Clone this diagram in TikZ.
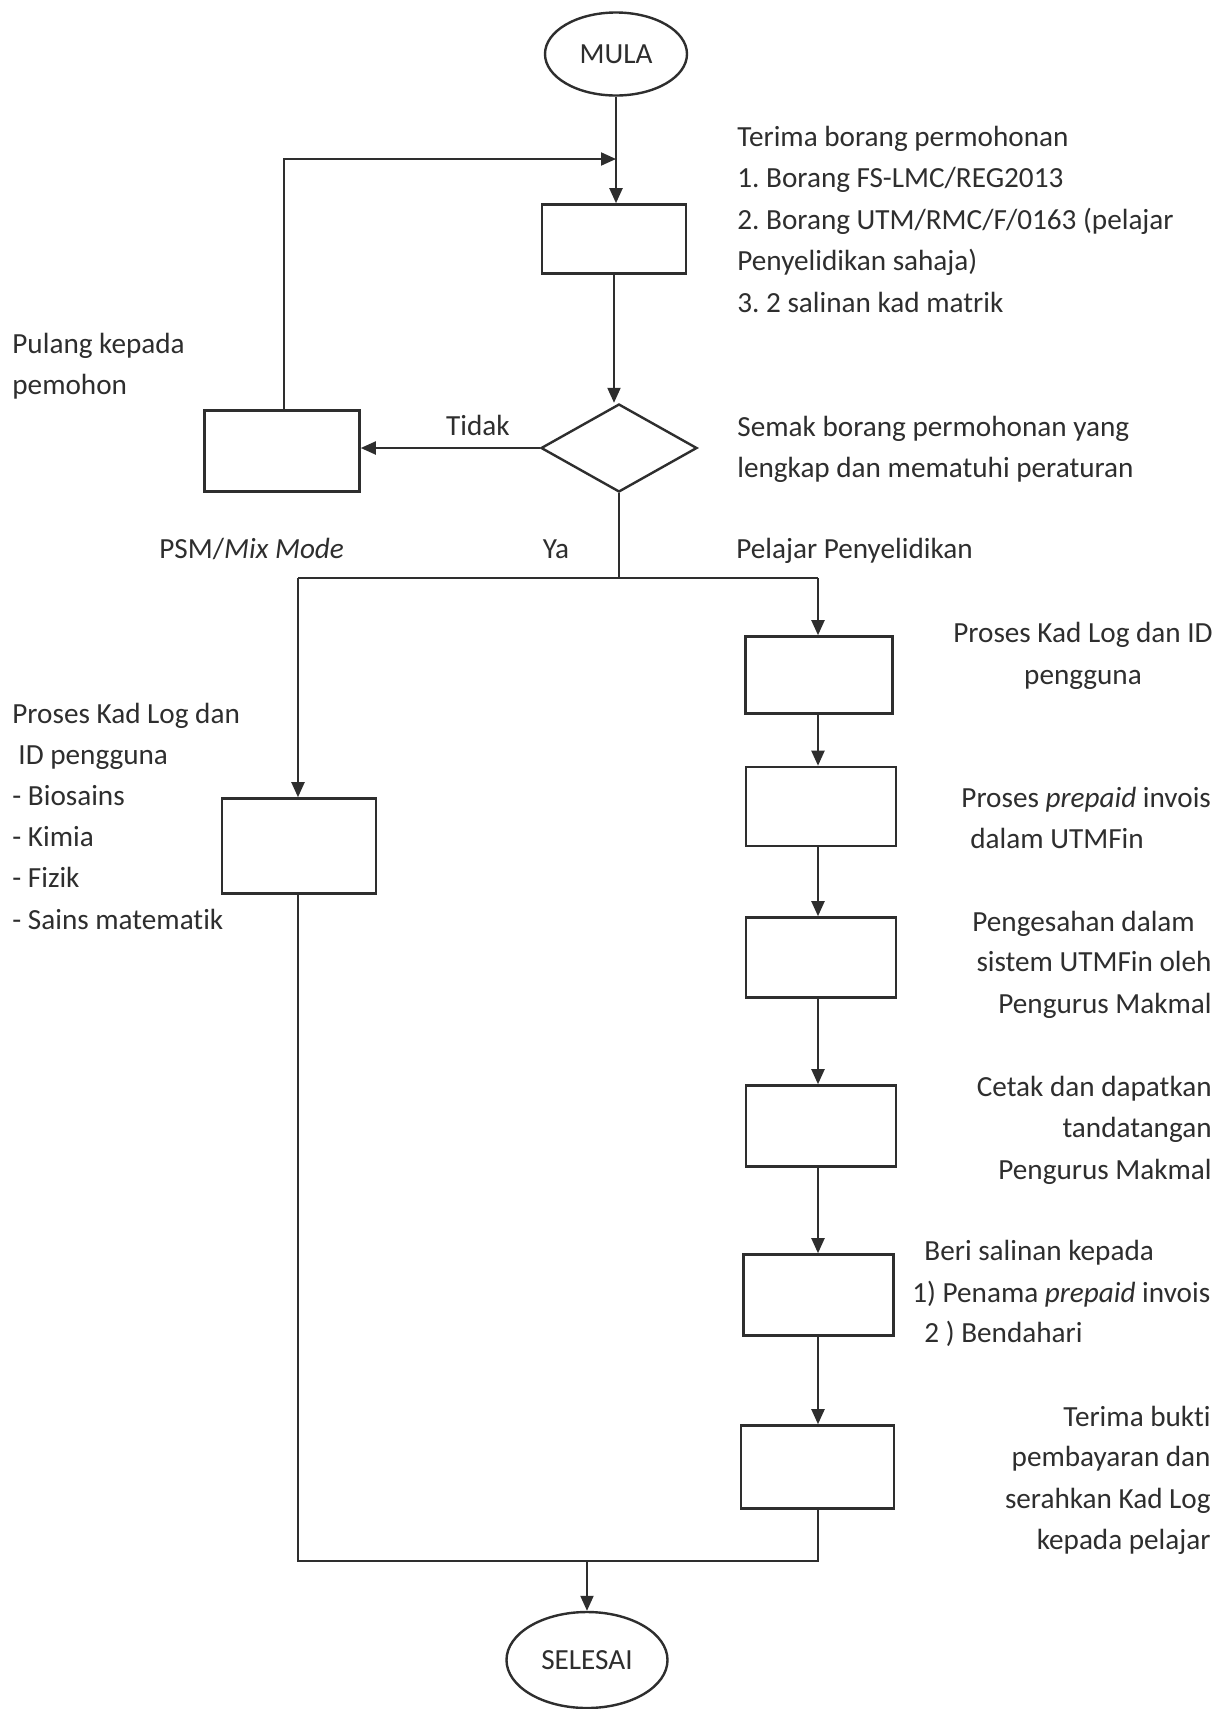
\documentclass[tikz,border=0pt]{standalone}
\usepackage{fontspec}
\setmainfont{Carlito}[Ligatures={NoCommon}]
\usetikzlibrary{arrows.meta,shapes.geometric}
\definecolor{ink}{HTML}{2E2E2E}
\newcommand\dfont{\fontsize{14.6}{18}\selectfont}
\frenchspacing
\begin{document}
\begin{tikzpicture}[x=0.5pt,y=-0.5pt,
  line/.style={draw=ink, line width=1pt},
  arr/.style={line, -{Triangle[length=7.5pt,width=6.5pt]}},
  box/.style={draw=ink, line width=1.3pt, rectangle, inner sep=0pt, minimum width=75pt},
  term/.style={draw=ink, line width=1.2pt, ellipse, inner sep=0pt, font=\dfont, text=ink},
  dec/.style={draw=ink, line width=1.2pt, diamond, inner sep=0pt, minimum width=78pt, minimum height=44pt},
  lbl/.style={inner sep=0pt, font=\dfont, text=ink},
]
\useasboundingbox[fill=white] (0,0) rectangle (1225,1709);

% shapes
\node[term, minimum width=71pt, minimum height=41.5pt] (mula) at (616,54) {MULA};
\node[box, minimum width=72pt, minimum height=34.5pt] (b1) at (614,239) {};
\node[dec] (dia) at (619,448) {};
\node[box, minimum width=77.5pt, minimum height=40.5pt] (pul) at (282,451) {};
\node[box, minimum width=77pt, minimum height=47.5pt] (lb) at (299,846) {};
\node[box, minimum width=73.5pt, minimum height=38.5pt] (r1) at (819,675) {};
\node[box, minimum height=39.5pt] (r2) at (821,806.5) {};
\node[box, minimum height=40pt] (r3) at (821,957.5) {};
\node[box, minimum height=40.5pt] (r4) at (821,1126) {};
\node[box, minimum height=40.5pt] (r5) at (818.5,1295) {};
\node[box, minimum width=76.5pt, minimum height=41.5pt] (r6) at (817.5,1467) {};
\node[term, minimum width=80.5pt, minimum height=48pt] (end) at (587,1660) {SELESAI};

% junction coordinates
\coordinate (loop) at (616,159);
\coordinate (br) at (619,578);
\coordinate (brl) at (298,578);
\coordinate (brr) at (818,578);
\coordinate (jn) at (587,1561);
\coordinate (jl) at (298,1561);
\coordinate (jr) at (818,1561);

% connectors
\draw[line] (mula.south) -- (loop);
\draw[arr] (loop) -- (b1.north -| loop);
\draw[arr] (b1.south) -- (b1.south |- dia.north);
\draw[arr] (dia.west) -- (pul.east |- dia.west);
\draw[arr] (pul.north -| 284,0) -- (284,159) -- (loop);
\draw[line] (dia.south) -- (br);
\draw[line] (brl) -- (brr);
\draw[arr] (brl) -- (lb.north -| brl);
\draw[arr] (brr) -- (r1.north -| brr);
\draw[arr] (r1.south -| brr) -- (r2.north -| brr);
\draw[arr] (r2.south -| brr) -- (r3.north -| brr);
\draw[arr] (r3.south -| brr) -- (r4.north -| brr);
\draw[arr] (r4.south -| brr) -- (r5.north -| brr);
\draw[arr] (r5.south -| brr) -- (r6.north -| brr);
\draw[line] (lb.south -| brl) -- (jl) -- (jr) -- (r6.south -| jr);
\draw[arr] (jn) -- (end.north);

% texts
\node[lbl, anchor=base west] (ta) at (737,146) {Terima borang permohonan};
\node[lbl, anchor=base west] (tb) at (737,187.5) {1. Borang FS-LMC/REG2013};
\node[lbl, anchor=base west] (tc) at (737,229) {2. Borang UTM/RMC/F/0163 (pelajar};
\node[lbl, anchor=base west] (td) at (737,270.5) {Penyelidikan sahaja)};
\node[lbl, anchor=base west] (te) at (737,312) {3. 2 salinan kad matrik};

\node[lbl, anchor=base west] (pa) at (12,353) {Pulang kepada};
\node[lbl, anchor=base west] (pb) at (12,394) {pemohon};

\node[lbl, anchor=base] (tidak) at (478,435) {Tidak};
\node[lbl, anchor=base west] (sa) at (737,436) {Semak borang permohonan yang};
\node[lbl, anchor=base west] (sb) at (737,477) {lengkap dan mematuhi peraturan};

\node[lbl, anchor=base west] (psm) at (159,558) {PSM/\textit{Mix Mode}};
\node[lbl, anchor=base] (ya) at (556,558) {Ya};
\node[lbl, anchor=base west] (pp) at (736,558) {Pelajar Penyelidikan};

\node[lbl, anchor=base] (k1a) at (1083,642) {Proses Kad Log dan ID};
\node[lbl, anchor=base] (k1b) at (1083,684) {pengguna};

\node[lbl, anchor=base west] (la) at (12,723) {Proses Kad Log dan};
\node[lbl, anchor=base west] (lbt) at (18,764) {ID pengguna};
\node[lbl, anchor=base west] (lc) at (12,805) {- Biosains};
\node[lbl, anchor=base west] (ld) at (12,846) {- Kimia};
\node[lbl, anchor=base west] (le) at (12,887) {- Fizik};
\node[lbl, anchor=base west] (lf) at (12,929) {- Sains matematik};

\node[lbl, anchor=base west] (k2a) at (961,807) {Proses \textit{prepaid} invois};
\node[lbl, anchor=base west] (k2b) at (970,848) {dalam UTMFin};

\node[lbl, anchor=base west] (k3a) at (972,931) {Pengesahan dalam};
\node[lbl, anchor=base east] (k3b) at (1212,971) {sistem UTMFin oleh};
\node[lbl, anchor=base east] (k3c) at (1212,1013) {Pengurus Makmal};

\node[lbl, anchor=base east] (k4a) at (1212,1096) {Cetak dan dapatkan};
\node[lbl, anchor=base east] (k4b) at (1212,1137) {tandatangan};
\node[lbl, anchor=base east] (k4c) at (1212,1179) {Pengurus Makmal};

\node[lbl, anchor=base west] (k5a) at (924,1260) {Beri salinan kepada};
\node[lbl, anchor=base west] (k5b) at (912,1302) {1) Penama \textit{prepaid} invois};
\node[lbl, anchor=base west] (k5c) at (924,1342) {2 ) Bendahari};

\node[lbl, anchor=base east] (k6a) at (1211,1426) {Terima bukti};
\node[lbl, anchor=base east] (k6b) at (1211,1466) {pembayaran dan};
\node[lbl, anchor=base east] (k6c) at (1211,1508) {serahkan Kad Log};
\node[lbl, anchor=base east] (k6d) at (1211,1549) {kepada pelajar};
\end{tikzpicture}
\end{document}
